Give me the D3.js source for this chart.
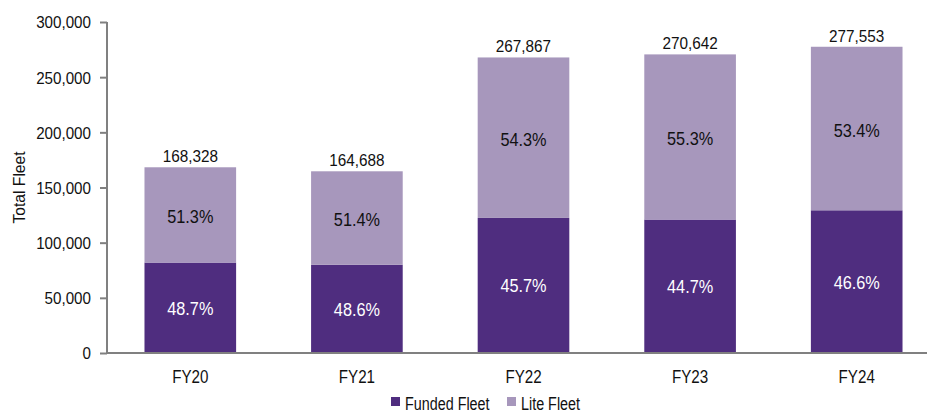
<!DOCTYPE html>
<html>
<head>
<meta charset="utf-8">
<script src="https://cdn.jsdelivr.net/npm/d3@7"></script>
<style>
  body { margin: 0; background: #fff; }
  svg text { font-family: "Liberation Sans Narrow", "Arial Narrow", "Liberation Sans", Arial, sans-serif; }
</style>
</head>
<body>
<svg id="chart" width="927" height="414"></svg>
<script>
// data
var years = ["FY20", "FY21", "FY22", "FY23", "FY24"];
var funded = [81976, 80038, 122415, 120977, 129340];
var lite = [86352, 84650, 145452, 149665, 148213];
var totals = ["168,328", "164,688", "267,867", "270,642", "277,553"];
var fundedPct = ["48.7%", "48.6%", "45.7%", "44.7%", "46.6%"];
var litePct = ["51.3%", "51.4%", "54.3%", "55.3%", "53.4%"];
var yTicks = [0, 50000, 100000, 150000, 200000, 250000, 300000];

var colFunded = "#4f2d7f", colLite = "#a797bc", colAxis = "#808080", colText = "#111";

var svg = d3.select("#chart");

var x = d3.scaleBand().domain(years).range([107, 940]).paddingInner(0.45).paddingOuter(0.225);
var y = d3.scaleLinear().domain([0, 300000]).range([353, 22]);

var rows = years.map(function(d, i){
	return {year: d, funded: funded[i], lite: lite[i], total: totals[i], fp: fundedPct[i], lp: litePct[i]};
});

// the reference font is a narrow one, squeeze the regular face to fit
function narrowText(sel, size, sx){
	sel.style("font-size", size + "px")
		.attr("transform", function(){
			var t = d3.select(this);
			return "translate(" + t.attr("data-x") + "," + t.attr("data-y") + ") scale(" + sx + ",1)";
		});
}

var g = svg.append("g");

// bars
g.selectAll(".bar-f").data(rows).enter().append("rect")
	.attr("x", function(d){ return x(d.year) })
	.attr("width", x.bandwidth())
	.attr("y", function(d){ return y(d.funded) })
	.attr("height", function(d){ return y(0) - y(d.funded) })
	.style("fill", colFunded);

g.selectAll(".bar-l").data(rows).enter().append("rect")
	.attr("x", function(d){ return x(d.year) })
	.attr("width", x.bandwidth())
	.attr("y", function(d){ return y(d.funded + d.lite) })
	.attr("height", function(d){ return y(d.funded) - y(d.funded + d.lite) })
	.style("fill", colLite);

// labels
var cx = function(d){ return x(d.year) + x.bandwidth() / 2 };

g.selectAll(".lab-f").data(rows).enter().append("text")
	.attr("data-x", cx)
	.attr("data-y", function(d){ return y(d.funded / 2) + 7 })
	.attr("text-anchor", "middle")
	.style("fill", "#fff")
	.text(function(d){ return d.fp })
	.call(narrowText, 18.5, 0.88);

g.selectAll(".lab-l").data(rows).enter().append("text")
	.attr("data-x", cx)
	.attr("data-y", function(d){ return y(d.funded + d.lite / 2) + 8 })
	.attr("text-anchor", "middle")
	.style("fill", colText)
	.text(function(d){ return d.lp })
	.call(narrowText, 18.5, 0.88);

g.selectAll(".lab-t").data(rows).enter().append("text")
	.attr("data-x", cx)
	.attr("data-y", function(d){ return y(d.funded + d.lite) - 5 })
	.attr("text-anchor", "middle")
	.style("fill", colText)
	.text(function(d){ return d.total })
	.call(narrowText, 17, 0.9);

// axes
var yAxis = svg.append("g")
	.attr("transform", "translate(107,0)")
	.call(d3.axisLeft(y).tickValues(yTicks).tickSize(7).tickFormat(d3.format(",")));
yAxis.select(".domain").attr("d", "M0," + y(300000) + "V" + y(0)).style("stroke", colAxis).style("stroke-width", 2);
yAxis.selectAll(".tick line").style("stroke", colAxis).style("stroke-width", 2);
yAxis.selectAll(".tick text")
	.attr("x", -16 / 0.92).attr("dy", "0.36em")
	.attr("transform", "scale(0.92,1)")
	.style("font-size", "16.5px").style("fill", colText);

var xAxis = svg.append("g")
	.attr("transform", "translate(0," + y(0) + ")")
	.call(d3.axisBottom(x).tickSize(0));
xAxis.select(".domain").attr("d", "M107,0H927").style("stroke", colAxis).style("stroke-width", 2);
xAxis.selectAll(".tick text")
	.attr("y", 30).attr("dy", null)
	.attr("transform", "scale(0.82,1)")
	.style("font-size", "18.5px").style("fill", colText);

svg.append("text")
	.attr("transform", "translate(25,187.5) rotate(-90) scale(0.95,1)")
	.attr("text-anchor", "middle")
	.style("font-size", "16.5px").style("fill", colText)
	.text("Total Fleet");

// legend, kept just inside the bottom edge
var legend = [{name: "Funded Fleet", color: colFunded, x: 391}, {name: "Lite Fleet", color: colLite, x: 507}];
var lg = svg.selectAll(".leg").data(legend).enter().append("g")
	.attr("transform", function(d){ return "translate(" + d.x + ",397)" });
lg.append("rect").attr("width", 9).attr("height", 9).style("fill", function(d){ return d.color });
lg.append("text")
	.attr("data-x", 14).attr("data-y", 12.5)
	.style("fill", colText)
	.text(function(d){ return d.name })
	.call(narrowText, 17.5, 0.82);
</script>
</body>
</html>
